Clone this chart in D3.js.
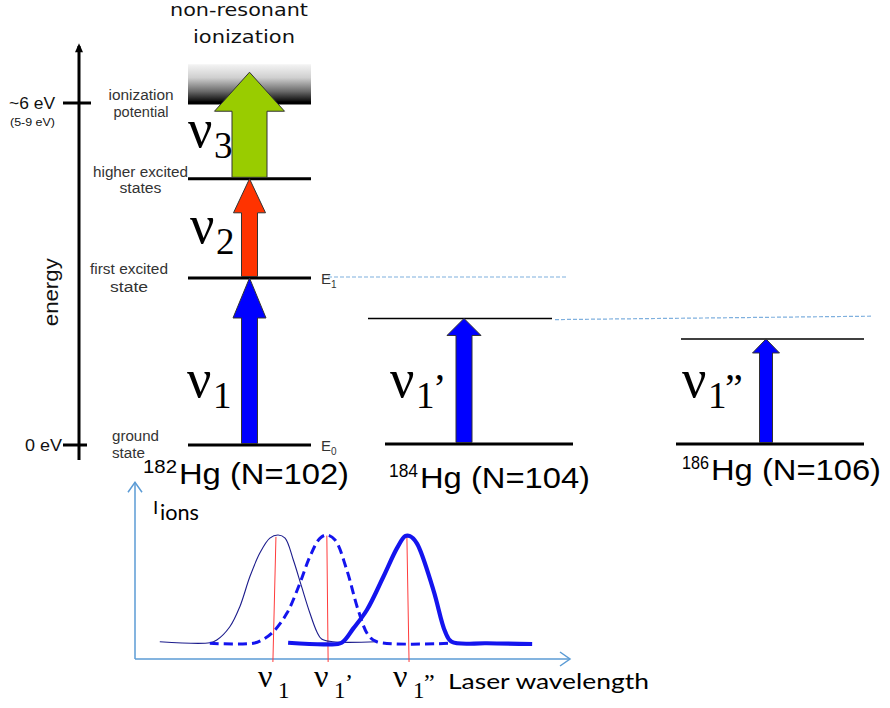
<!DOCTYPE html>
<html><head><meta charset="utf-8">
<script src="https://cdn.jsdelivr.net/npm/d3@7"></script>
<style>html,body{margin:0;padding:0;background:#fff;} svg{display:block;}</style>
</head><body>
<svg id="chart" width="890" height="708"></svg>
<script>
// ---- energy ladder of 182Hg (eV, schematic) ----
const ladderLevels = [0, 2.93, 4.67, 6.0];
const ladderLabels = [["ground", "state"], ["first excited", "state"], ["higher excited", "states"], ["ionization", "potential"]];
const continuumTop = 6.68;   // upper edge of the continuum band
const nu3Reach = 6.54;       // tip of the non-resonant step
const ladderFrom = [0, 2.93, 4.67];
const ladderTo = [2.93, 4.67, nu3Reach];
const ladderSubs = ["1", "2", "3"];
const ladderColors = ["#0000ff", "#ff3300", "#99cc00"];

// ---- first resonant step of each isotope (eV, schematic) ----
const isotopeMass = [182, 184, 186];
const isotopeN = [102, 104, 106];
const firstStep = [2.93, 2.22, 1.86];
const stepPrimes = ["", "’", "”"];

// ---- energy axis ticks ----
const energyTicks = [6, 0];
const energyTickLabels = ["~6 eV", "0 eV"];

// ---- ion yield vs laser wavelength (arbitrary units) ----
const scan182 = [[5.7,13.9],[17.2,13.1],[18.8,15.3],[21.8,26.0],[24.1,42.2],[26.4,66.3],[28.7,85.4],[31.0,97.5],[32.9,100],[34.5,97.5],[36.4,79.8],[38.3,58.3],[40.2,37.1],[41.8,22.0],[42.9,16.1],[45.5,13.9],[55.6,13.9]];
const scan184 = [[17.2,12.7],[27.2,12.7],[29.5,15.9],[31.8,22.0],[34.9,36.8],[37.9,61.0],[40.2,82.5],[42.5,97.3],[44.1,100],[46.0,95.9],[48.7,71.7],[51.3,39.5],[53.6,19.3],[55.6,13.9],[72.4,12.7]];
const scan186 = [[35.2,13.1],[44.1,11.8],[47.5,13.1],[50.2,24.7],[53.3,39.5],[57.1,66.3],[60.2,89.2],[62.1,99.1],[63.2,99.1],[64.8,93.3],[68.6,55.6],[71.3,22.0],[72.8,13.9],[80.9,12.7],[91.3,12.1]];
const peakTop = [32.4, 44.1, 62.5];
const peakFoot = [31.7, 44.4, 63.0];
const peakTopYield = [98.5, 99.5, 99];

const svg = d3.select("#chart");
const defs = svg.append("defs");
const grad = defs.append("linearGradient").attr("id", "continuum").attr("x1", 0).attr("y1", 0).attr("x2", 0).attr("y2", 1);
[[0, "#f4f4f4"], [0.35, "#cfcfcf"], [0.7, "#6a6a6a"], [0.92, "#1a1a1a"], [1, "#000"]]
  .forEach(([o, c]) => grad.append("stop").attr("offset", o).attr("stop-color", c));

const sans = "'Liberation Sans', Arial, sans-serif";
const serif = "'Liberation Serif', 'Times New Roman', serif";
const calib = "Lato, 'Open Sans', sans-serif";

// energy scale shared by all three level schemes
const yE = d3.scaleLinear().domain([0, 6]).range([445, 103]);

// ---- energy axis ----
const axisX = 79;
svg.append("line").attr("x1", axisX).attr("x2", axisX).attr("y1", yE(7.0)).attr("y2", 460)
  .attr("stroke", "#000").attr("stroke-width", 3);
svg.append("path").attr("d", `M${axisX},${yE(7.05)}L${axisX - 4},${yE(7.05) + 9}L${axisX + 4},${yE(7.05) + 9}Z`).attr("fill", "#000");
energyTicks.forEach((e, i) => {
  svg.append("line").attr("x1", 63).attr("x2", i === 0 ? 91 : 87).attr("y1", yE(e)).attr("y2", yE(e))
    .attr("stroke", "#000").attr("stroke-width", 3);
  svg.append("text").attr("x", i === 0 ? 9 : 25).attr("y", yE(e) + 6)
    .attr("font-family", sans).attr("font-size", 16).attr("fill", "#111")
    .attr("textLength", i === 0 ? 46 : 37).attr("lengthAdjust", "spacingAndGlyphs")
    .text(energyTickLabels[i]);
});
svg.append("text").attr("x", 10).attr("y", yE(6) + 23).attr("font-family", sans).attr("font-size", 11)
  .attr("fill", "#111").attr("textLength", 45).attr("lengthAdjust", "spacingAndGlyphs").text("(5-9 eV)");
svg.append("text").attr("transform", `translate(58,${yE(2.68)}) rotate(-90)`).attr("text-anchor", "middle")
  .attr("font-family", sans).attr("font-size", 21).attr("fill", "#111")
  .attr("textLength", 68).attr("lengthAdjust", "spacingAndGlyphs").text("energy");

// ---- continuum band and title ----
svg.append("rect").attr("x", 188).attr("width", 123).attr("y", yE(continuumTop)).attr("height", yE(6) - yE(continuumTop))
  .attr("fill", "url(#continuum)");
const titleFont = "'DejaVu Sans', sans-serif";
svg.append("text").attr("x", 239).attr("y", 16).attr("text-anchor", "middle").attr("font-family", titleFont)
  .attr("font-size", 18).attr("fill", "#111").attr("textLength", 138).attr("lengthAdjust", "spacingAndGlyphs").text("non-resonant");
svg.append("text").attr("x", 244).attr("y", 43).attr("text-anchor", "middle").attr("font-family", titleFont)
  .attr("font-size", 18).attr("fill", "#111").attr("textLength", 102).attr("lengthAdjust", "spacingAndGlyphs").text("ionization");

// ---- helpers ----
function arrowPath(cx, yBase, yTip, headLen, headHalf, shaftHalf) {
  const p = d3.path();
  const yh = yTip + headLen;
  p.moveTo(cx - shaftHalf, yBase);
  p.lineTo(cx - shaftHalf, yh);
  p.lineTo(cx - headHalf, yh);
  p.lineTo(cx, yTip);
  p.lineTo(cx + headHalf, yh);
  p.lineTo(cx + shaftHalf, yh);
  p.lineTo(cx + shaftHalf, yBase);
  p.closePath();
  return p.toString();
}
// ν with subscript and optional prime marks
function nuLabel(x, y, sub, prime, big) {
  const g = svg.append("g");
  const nuSize = big ? 54 : 32, subSize = big ? 37 : 24;
  g.append("text").attr("x", x).attr("y", y).attr("font-family", serif).attr("font-size", nuSize).attr("fill", "#000").text("ν");
  const sx = x + (big ? 26 : 20);
  g.append("text").attr("x", sx).attr("y", y + 11).attr("font-family", serif).attr("font-size", subSize).attr("fill", "#000").text(sub);
  if (prime) {
    g.append("text").attr("x", sx + (big ? 17 : 10)).attr("y", y + (big ? 4 : 0)).attr("font-family", serif)
      .attr("font-size", big ? 40 : 28).attr("fill", "#000").text(prime);
  }
}

// ---- 182Hg ladder ----
const arrowX = [249.5, 464, 766];
const ladderHead = [40, 34, 39];
const ladderHeadHalf = [16.5, 16, 35];
const ladderShaftHalf = [8, 8, 17.5];

ladderLevels.forEach(e => {
  svg.append("line").attr("x1", 188).attr("x2", 311).attr("y1", yE(e)).attr("y2", yE(e))
    .attr("stroke", "#000").attr("stroke-width", 3);
});
ladderFrom.forEach((f, i) => {
  svg.append("path").attr("d", arrowPath(arrowX[0], yE(f) - 1.5, yE(ladderTo[i]), ladderHead[i], ladderHeadHalf[i], ladderShaftHalf[i]))
    .attr("fill", ladderColors[i]).attr("stroke", "#333").attr("stroke-width", 1);
});
// level names
const labelSpec = [
  {anchor: "start", x: 112, dy: [-4, 13], lens: [47, 33]},
  {anchor: "middle", x: 129, dy: [-4, 14], lens: [78, 38]},
  {anchor: "middle", x: 140.5, dy: [-2, 14], lens: [95, 42]},
  {anchor: "middle", x: 141, dy: [-3, 14], lens: [65, 55]}
];
ladderLevels.forEach((e, i) => {
  const sp = labelSpec[i];
  ladderLabels[i].forEach((t, j) => {
    svg.append("text").attr("x", sp.x).attr("y", yE(e) + sp.dy[j]).attr("text-anchor", sp.anchor)
      .attr("font-family", sans).attr("font-size", 14).attr("fill", "#333")
      .attr("textLength", sp.lens[j]).attr("lengthAdjust", "spacingAndGlyphs").text(t);
  });
});
// dashed guides carrying the first excited level across to the neighbours
svg.append("line").attr("x1", 328).attr("x2", 567).attr("y1", yE(2.93) - 1).attr("y2", yE(2.93) - 1)
  .attr("stroke", "#7fb0de").attr("stroke-width", 1.2).attr("stroke-dasharray", "4,2");
svg.append("line").attr("x1", 555).attr("x2", 872).attr("y1", yE(2.20)).attr("y2", yE(2.26))
  .attr("stroke", "#7fb0de").attr("stroke-width", 1.2).attr("stroke-dasharray", "4,2");
[[2.93, "1"], [0, "0"]].forEach(([e, s]) => {
  const t = svg.append("text").attr("x", 321).attr("y", yE(e) + 6).attr("font-family", sans).attr("font-size", 15).attr("fill", "#333");
  t.append("tspan").text("E");
  t.append("tspan").attr("font-size", 10).attr("dy", 4).text(s);
});
nuLabel(188, yE(5.23), ladderSubs[2], "", true);
nuLabel(190, yE(3.55), ladderSubs[1], "", true);
nuLabel(187, yE(0.84), ladderSubs[0], "", true);

// ---- 184Hg and 186Hg first steps ----
const upperExtent = [null, [368, 552], [681, 864]];
const lowerExtent = [null, [385, 573], [676, 864]];
const stepHead = [null, 17, 14];
const stepHeadHalf = [null, 17, 13.5];
const stepShaftHalf = [null, 8, 6.5];
const nuX = [187, 390, 682];
[1, 2].forEach(k => {
  svg.append("line").attr("x1", upperExtent[k][0]).attr("x2", upperExtent[k][1]).attr("y1", yE(firstStep[k])).attr("y2", yE(firstStep[k]))
    .attr("stroke", "#000").attr("stroke-width", 1.6);
  svg.append("line").attr("x1", lowerExtent[k][0]).attr("x2", lowerExtent[k][1]).attr("y1", yE(0) - 1).attr("y2", yE(0) - 1)
    .attr("stroke", "#000").attr("stroke-width", 3);
  svg.append("path").attr("d", arrowPath(arrowX[k], yE(0) - 2.5, yE(firstStep[k]), stepHead[k], stepHeadHalf[k], stepShaftHalf[k]))
    .attr("fill", "#0000ff").attr("stroke", "#333").attr("stroke-width", 1);
  nuLabel(nuX[k], yE(0.84), "1", stepPrimes[k], true);
});

// isotope names
const nameX = [143, 389, 682];
const nameY = [484, 488, 480];
const supLen = [34, 29, 27];
isotopeMass.forEach((m, k) => {
  svg.append("text").attr("x", nameX[k]).attr("y", nameY[k] - 11).attr("font-family", sans).attr("font-size", 19)
    .attr("fill", "#000").attr("textLength", supLen[k]).attr("lengthAdjust", "spacingAndGlyphs").text(m);
  svg.append("text").attr("x", nameX[k] + supLen[k] + 2).attr("y", nameY[k]).attr("font-family", sans).attr("font-size", 30)
    .attr("fill", "#000").attr("textLength", 170).attr("lengthAdjust", "spacingAndGlyphs").text(`Hg (N=${isotopeN[k]})`);
});

// ---- ion yield scans ----
const xS = d3.scaleLinear().domain([0, 100]).range([135, 570]);
const yS = d3.scaleLinear().domain([0, 100]).range([659, 535]);
const axisBlue = "#5b9bd5";
const scanPanel = svg.append("g");
scanPanel.append("line").attr("x1", xS(0)).attr("x2", xS(0)).attr("y1", yS(0)).attr("y2", yS(142.5))
  .attr("stroke", axisBlue).attr("stroke-width", 1.5);
scanPanel.append("line").attr("x1", xS(0)).attr("x2", xS(100)).attr("y1", yS(0)).attr("y2", yS(0))
  .attr("stroke", axisBlue).attr("stroke-width", 1.5);
scanPanel.append("path").attr("d", `M${xS(0) - 7},${yS(142.5) + 10}L${xS(0)},${yS(142.5)}L${xS(0) + 7},${yS(142.5) + 10}`)
  .attr("fill", "none").attr("stroke", axisBlue).attr("stroke-width", 1.5);
scanPanel.append("path").attr("d", `M${xS(100) - 10},${yS(0) - 7}L${xS(100)},${yS(0)}L${xS(100) - 10},${yS(0) + 7}`)
  .attr("fill", "none").attr("stroke", axisBlue).attr("stroke-width", 1.5);

const scanLine = d3.line().x(d => xS(d[0])).y(d => yS(d[1])).curve(d3.curveCatmullRom.alpha(0.5));
// peak markers
peakTop.forEach((p, i) => {
  scanPanel.append("line").attr("x1", xS(p)).attr("x2", xS(peakFoot[i])).attr("y1", yS(peakTopYield[i])).attr("y2", yS(-2.4))
    .attr("stroke", "#ff3b3b").attr("stroke-width", 1);
});
scanPanel.append("path").attr("d", scanLine(scan182)).attr("fill", "none").attr("stroke", "#1c1c8c").attr("stroke-width", 1.1);
scanPanel.append("path").attr("d", scanLine(scan184)).attr("fill", "none").attr("stroke", "#1414ee").attr("stroke-width", 3)
  .attr("stroke-dasharray", "9,5");
scanPanel.append("path").attr("d", scanLine(scan186)).attr("fill", "none").attr("stroke", "#1414ee").attr("stroke-width", 4.2)
  .attr("stroke-linejoin", "round");

// axis titles
scanPanel.append("text").attr("x", 153).attr("y", 514).attr("font-family", sans).attr("font-size", 19).attr("fill", "#000").text("I");
scanPanel.append("text").attr("x", 160).attr("y", 520).attr("font-family", calib).attr("font-size", 22).attr("fill", "#000")
  .attr("textLength", 39).attr("lengthAdjust", "spacingAndGlyphs").text("ions");
scanPanel.append("text").attr("x", 448).attr("y", 689).attr("font-family", calib).attr("font-size", 22).attr("fill", "#000")
  .attr("textLength", 201).attr("lengthAdjust", "spacingAndGlyphs").text("Laser wavelength");

// peak labels under the wavelength axis
const peakLabelX = [258, 314, 393];
peakLabelX.forEach((x, i) => {
  const g = scanPanel.append("g");
  g.append("text").attr("x", x).attr("y", 687).attr("font-family", serif).attr("font-size", 32).text("ν");
  g.append("text").attr("x", x + 20).attr("y", 698).attr("font-family", serif).attr("font-size", 23).text("1");
  if (stepPrimes[i]) {
    g.append("text").attr("x", x + 31).attr("y", 690).attr("font-family", serif).attr("font-size", 24).text(stepPrimes[i]);
  }
});
</script>
</body></html>
